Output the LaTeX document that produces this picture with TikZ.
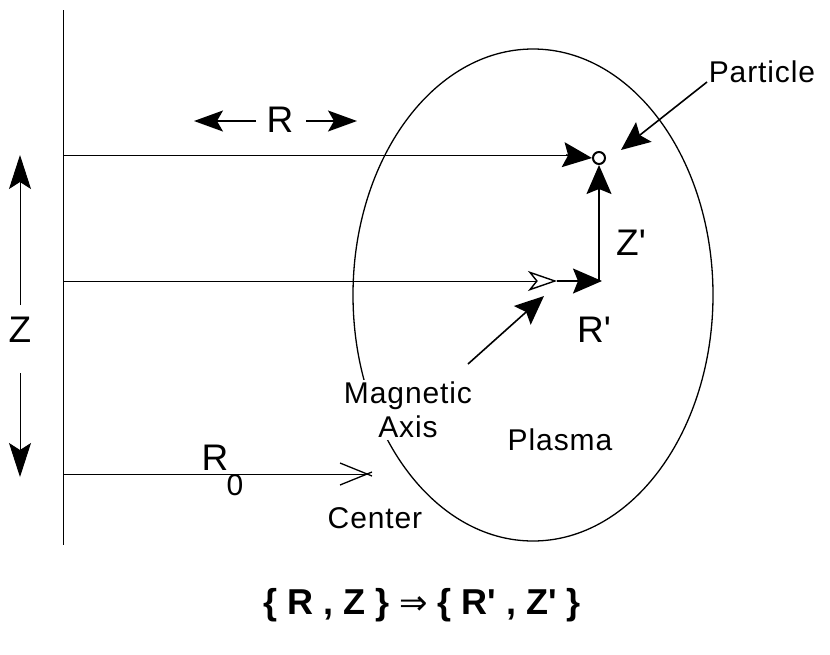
\documentclass[tikz,border=0pt]{standalone}
\usepackage{fontspec}
\setmainfont{Liberation Sans}[Ligatures=TeXOff]
\newfontfamily\dvsans{DejaVu Sans}
\usetikzlibrary{arrows.meta,shapes.geometric}
\tikzset{
  lab/.style={inner sep=0pt, font=\fontsize{30}{34}\selectfont\addfontfeature{LetterSpace=3}},
  big/.style={inner sep=0pt, font=\fontsize{37}{40}\selectfont},
  thinline/.style={line width=0.9pt},
  farrow/.style={line width=1.6pt, -{Stealth[length=29pt,width=25pt,inset=5pt]}},
  zarrow/.style={line width=1pt, -{Stealth[length=34pt,width=22pt,inset=7pt]}},
  rarrow/.style={line width=1.4pt, -{Stealth[length=29pt,width=21pt,inset=6pt]}},
  oarrow/.style={line width=0.9pt, -{Stealth[open,length=29pt,width=20pt,inset=8pt,line width=1.4pt]}},
}
\begin{document}
\begin{tikzpicture}[x=1pt,y=-1pt]
\useasboundingbox (0,0) rectangle (830,654);
% wall
\coordinate (wallT) at (63,10);
\coordinate (wallB) at (63,545);
\draw[thinline] (wallT) -- (wallB);
% plasma ellipse
\node[draw, line width=1.3pt, ellipse, minimum width=360pt, minimum height=492pt, inner sep=0pt] (plasma) at (533,295) {};
% particle
\node[draw, circle, line width=2pt, minimum size=12pt, inner sep=0pt, fill=white] (part) at (599,158) {};
% rows
\coordinate (rowA) at (63,155);
\coordinate (rowB) at (63,281);
\coordinate (rowC) at (63,474);
\coordinate (axis) at (557,281);
\coordinate (corner) at (602,281);
\coordinate (ctr) at (367,474);
\draw[thinline] (rowA) -- (570,155);
\draw[farrow] (566,155) -- (part.west);
\draw[oarrow] (rowB) -- (axis);
\draw[farrow] (axis) -- (corner);
\draw[farrow] (599,281) -- (part.south);
\draw[thinline] (rowC) -- (ctr);
\draw[line width=1.3pt] (340,463) -- (372,476);
\draw[line width=1.3pt] (340,485) -- (372,472);
% Z axis arrows
\node[big] (zlab) at (20,330) {Z};
\coordinate (zupS) at (20,305);
\coordinate (zupT) at (20,155);
\coordinate (zdnS) at (20,373);
\coordinate (zdnT) at (20,477);
\draw[zarrow] (zupS) -- (zupT);
\draw[zarrow] (zdnS) -- (zdnT);
% R label with arrows
\node[big] (rlab) at (280,120) {R};
\coordinate (rl) at (194,121);
\coordinate (rr) at (357,121);
\draw[rarrow] (256,121) -- (rl);
\draw[rarrow] (306,121) -- (rr);
% labels
\node[big] (zp) at (631,243) {Z'};
\node[big] (rp) at (594,330) {R'};
\node[lab, align=center, fill=white, inner sep=2pt] (mag) at (408,410) {Magnetic\\[0pt]Axis};
\coordinate (magT) at (468,364);
\coordinate (magH) at (544,296);
\draw[farrow] (magT) -- (magH);
\node[lab] (plab) at (560,440) {Plasma};
\node[lab] (clab) at (375,518) {Center};
\node[big] (r0) at (215,458) {R};
\node[lab] (r0s) at (235,485) {0};
\node[lab] (ptext) at (762,72) {Particle};
\coordinate (pa) at (707,82);
\coordinate (pb) at (621,150);
\draw[farrow] (pa) -- (pb);
% formula
\node[inner sep=0pt, font=\bfseries\fontsize{36}{40}\selectfont] (form) at (422,605) {\{ R , Z \} {\dvsans\mdseries\fontsize{34}{38}\selectfont ⇒} \{ R' , Z' \}};
\end{tikzpicture}
\end{document}
